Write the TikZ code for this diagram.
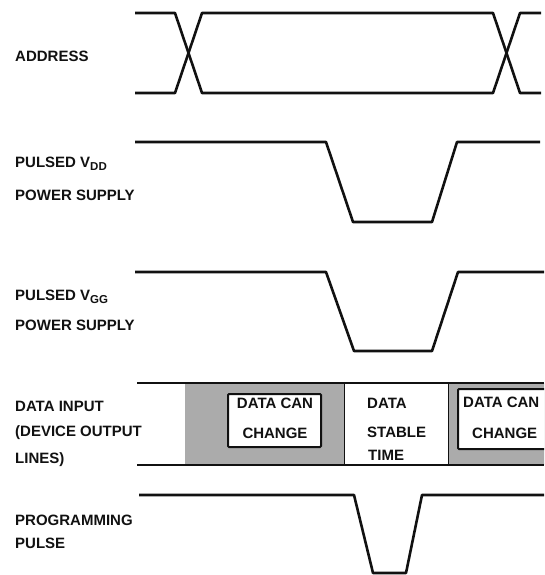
\documentclass[tikz,border=0pt]{standalone}
\usepackage{fontspec}
\setsansfont{Liberation Sans}
\usetikzlibrary{positioning}
\definecolor{tdInk}{HTML}{111111}
\definecolor{tdShade}{HTML}{ABABAB}
\definecolor{tdPaper}{HTML}{FFFFFF}
\newcommand{\tdsub}[1]{\raisebox{-3.5pt}{\fontsize{11.5}{12}\selectfont #1}}
\tikzset{
  td-wave/.style={draw=tdInk, line width=2.6pt, line join=round},
  td-label/.style={font=\sffamily\bfseries\fontsize{15}{17}\selectfont,
    text=tdInk, anchor=base west, inner sep=0pt},
  td-mid/.style={td-label, anchor=base},
  td-shade/.style={fill=tdShade, draw=none},
  td-box/.style={draw=tdInk, line width=2pt, fill=tdPaper, rounded corners=1pt},
  td-stable/.style={draw=tdInk, line width=1pt, fill=tdPaper}
}

\begin{document}
\begin{tikzpicture}[x=1pt, y=-1pt]
\useasboundingbox (0,0) rectangle (544,575);
\clip (0,0) rectangle (544,575);

% address
\node[td-label] (addr) at (15,62) {ADDRESS};
\draw[td-wave] (135,13) -- (175,13) -- (202,93) -- (493,93) -- (520,13) -- (541,13);
\draw[td-wave] (135,93) -- (175,93) -- (202,13) -- (493,13) -- (520,93) -- (541,93);

% pulsed vdd
\node[td-label] (vdd1) at (15,167) {PULSED V\tdsub{DD}};
\node[td-label] (vdd2) at (15,200) {POWER SUPPLY};
\draw[td-wave] (135,142) -- (326,142) -- (353,222) -- (432,222) -- (457,142) -- (540,142);

% pulsed vgg
\node[td-label] (vgg1) at (15,300) {PULSED V\tdsub{GG}};
\node[td-label] (vgg2) at (15,330) {POWER SUPPLY};
\draw[td-wave] (135,272) -- (326,272) -- (354,351) -- (432,351) -- (458,272) -- (544,272);

% data input
\node[td-label] (din1) at (15,411) {DATA INPUT};
\node[td-label] (din2) at (15,436) {(DEVICE OUTPUT};
\node[td-label] (din3) at (15,463) {LINES)};
\fill[td-shade] (185,383) rectangle (344,465);
\fill[td-shade] (448,383) rectangle (548,465);
\draw[td-stable] (344,383) rectangle (448,465);
\draw[td-box] (228,394) rectangle (321,447);
\draw[td-box] (458,389) rectangle (570,449);
\draw[td-wave] (137,383) -- (544,383);
\draw[td-wave] (137,465) -- (544,465);
\node[td-mid] (chg1a) at (275,408) {DATA CAN};
\node[td-mid] (chg1b) at (275,438) {CHANGE};
\node[td-label] (stb1) at (367,408) {DATA};
\node[td-label] (stb2) at (367,437) {STABLE};
\node[td-label] (stb3) at (368,460) {TIME};
\node[td-label] (chg2a) at (463,407) {DATA CAN};
\node[td-label] (chg2b) at (472,438) {CHANGE};

% programming pulse
\node[td-label] (prg1) at (15,525) {PROGRAMMING};
\node[td-label] (prg2) at (15,548) {PULSE};
\draw[td-wave] (139,495) -- (354,495) -- (373,573) -- (406,573) -- (422,495) -- (544,495);
\end{tikzpicture}
\end{document}
